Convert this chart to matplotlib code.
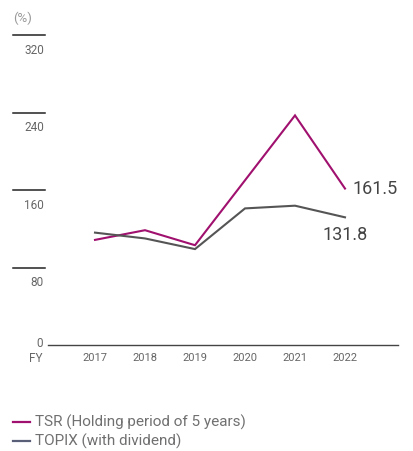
import matplotlib
matplotlib.use("Agg")
import matplotlib.pyplot as plt
from matplotlib.transforms import blended_transform_factory
from matplotlib.lines import Line2D

years = ["2017", "2018", "2019", "2020", "2021", "2022"]
tsr = [108.5, 118.5, 103.0, 170.0, 237.0, 161.5]
topix = [116.0, 110.0, 99.0, 141.0, 143.8, 131.8]
y_ticks = [0, 80, 160, 240, 320]

tsr_color = "#A0106E"
topix_color = "#555555"
label_color = "#666666"
condensed = ["Liberation Sans Narrow", "Roboto", "DejaVu Sans"]
plain = ["Roboto", "DejaVu Sans"]

W, H = 414, 451
fig = plt.figure(figsize=(W / 100, H / 100), dpi=100)
# axes spans x 48..398 px, y 35..345 px (top-down)
ax = fig.add_axes([48 / W, 1 - 345 / H, 350 / W, 310 / H])

x = list(range(len(years)))
ax.plot(x, tsr, color=tsr_color, lw=1.5, solid_joinstyle="miter")
ax.plot(x, topix, color=topix_color, lw=1.5, solid_joinstyle="miter")

ax.set_xlim(-0.94, 6.06)
ax.set_ylim(0, 320)
for s in ["top", "right", "left"]:
    ax.spines[s].set_visible(False)
ax.spines["bottom"].set_color("#444444")
ax.spines["bottom"].set_linewidth(1.0)
ax.set_yticks([])
ax.set_xticks(x)
ax.set_xticklabels(years, family=condensed, fontsize=8, color=label_color)
ax.tick_params(axis="x", length=0, pad=6)

# short rules with value labels left of the axes
tr = blended_transform_factory(ax.transAxes, ax.transData)
for v in y_ticks:
    if v == 0:
        ax.text(-0.014, v + 2, "0", transform=tr, ha="right", va="center",
                family=condensed, fontsize=8.5, color=label_color)
        continue
    ax.add_line(Line2D([-35 / 350, -3 / 350], [v, v], transform=tr,
                       color="#222222", lw=1.1, clip_on=False))
    ax.text(-0.012, v - 15.5, str(v), transform=tr, ha="right", va="center",
            family=condensed, fontsize=8.5, color=label_color)

fig.text(13 / W, 1 - 18 / H, "(%)", ha="left", va="center",
         family=plain, fontsize=9.5, color="#999999")
fig.text(43 / W, 1 - 358 / H, "FY", ha="right", va="center",
         family=plain, fontsize=8.5, color=label_color)

# end-of-line value labels
ax.annotate(f"{tsr[-1]:.1f}", (x[-1], tsr[-1]), xytext=(5.5, 0),
            textcoords="offset points", ha="left", va="center",
            family=plain, fontsize=13, color="#444444")
ax.annotate(f"{topix[-1]:.1f}", (x[-1], topix[-1]), xytext=(-16, -12.6),
            textcoords="offset points", ha="left", va="center",
            family=plain, fontsize=13, color="#444444")

# legend
legend_items = [("TSR (Holding period of 5 years)", tsr_color),
                ("TOPIX (with dividend)", "#5A5F78")]
for i, (txt, c) in enumerate(legend_items):
    yy = 1 - (422 + 19 * i) / H
    fig.add_artist(Line2D([13 / W, 30 / W], [yy, yy], color=c, lw=1.6))
    fig.text(35 / W, yy, txt, ha="left", va="center", family=plain,
             fontsize=11, color="#707070")

fig.savefig("out.png", dpi=100)
